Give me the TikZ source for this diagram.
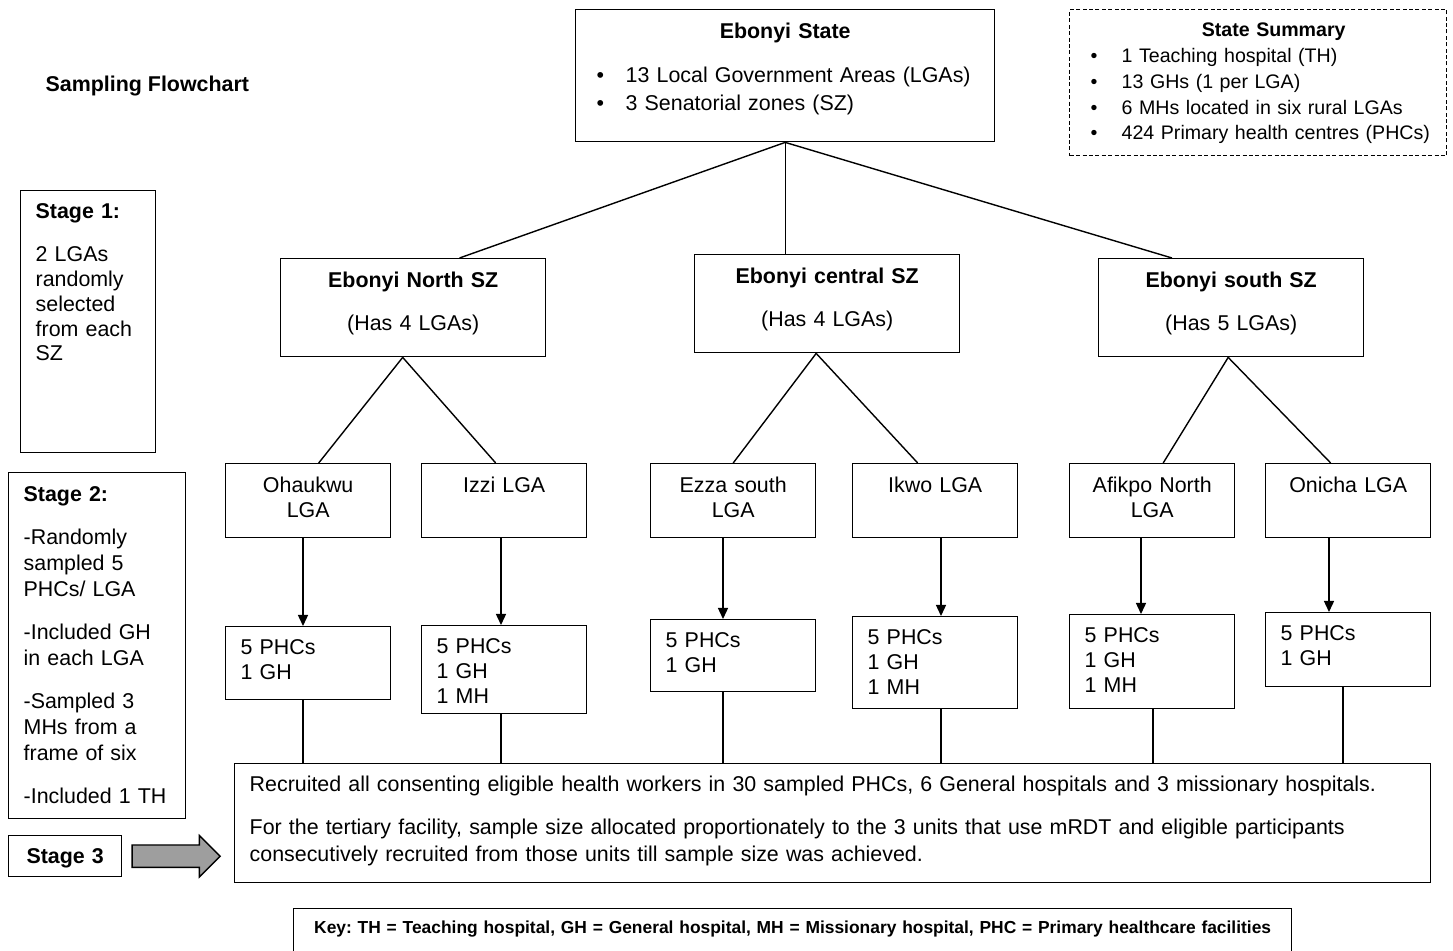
\documentclass[tikz,border=0pt]{standalone}
\usepackage{fontspec}
\setmainfont{Liberation Sans}
\usetikzlibrary{shapes.arrows,arrows.meta,positioning}
\frenchspacing

\begin{document}
\begin{tikzpicture}[x=0.5pt,y=-0.5pt,line width=0.7pt,
  box/.style={draw,rectangle,anchor=north west,inner sep=0pt,font=\fontsize{10.7}{12.4}\selectfont},
  lbox/.style={box,inner xsep=7.5pt,align=left},
  cbox/.style={box,align=center},
  sz/.style={cbox,text width=132.5pt,text height=14.5pt,text depth=34.5pt},
  lga/.style={cbox,text width=82.5pt,text height=14.5pt,text depth=22.5pt},
  phc/.style={lbox,text width=67.5pt,text height=14pt},
  arr/.style={-{Triangle[length=5.5pt,width=5pt]}}]
\useasboundingbox (0,0) rectangle (1453,951);

\node[font=\fontsize{10.7}{12.4}\selectfont\bfseries,anchor=west,inner sep=0pt] (title) at (45,86) {Sampling Flowchart};

\node[lbox,inner xsep=10.5pt,text width=188.5pt,text height=14.5pt,text depth=51.5pt,font=\fontsize{10.7}{14}\selectfont] (state) at (575,9)
  {\makebox[188.5pt]{\textbf{Ebonyi State}}\\[8pt]
   \makebox[14.5pt][l]{\textbullet}13 Local Government Areas (LGAs)\\
   \makebox[14.5pt][l]{\textbullet}3 Senatorial zones (SZ)};
\node[lbox,dash pattern=on 2pt off 1.2pt,inner xsep=10.5pt,text width=167.5pt,text height=13.5pt,text depth=59.5pt,font=\fontsize{9.8}{12.9}\selectfont] (summary) at (1069,9)
  {\hspace*{15.5pt}\makebox[152pt]{\textbf{State Summary}}\\
   \mbox{\makebox[15.5pt][l]{\textbullet}1 Teaching hospital (TH)}\\
   \mbox{\makebox[15.5pt][l]{\textbullet}13 GHs (1 per LGA)}\\
   \mbox{\makebox[15.5pt][l]{\textbullet}6 MHs located in six rural LGAs}\\
   \mbox{\makebox[15.5pt][l]{\textbullet}424 Primary health centres (PHCs)}};

\node[lbox,text width=52.5pt,text height=14pt,text depth=117pt] (stage1) at (20,190)
  {\textbf{Stage 1:}\\[9.1pt]2 LGAs\\randomly\\selected\\from each\\SZ};
\node[lbox,text width=73.5pt,text height=14.5pt,text depth=158.5pt,font=\fontsize{10.7}{13}\selectfont] (stage2) at (8,472)
  {\textbf{Stage 2:}\\[8.5pt]-Randomly\\sampled 5\\PHCs/ LGA\\[8.5pt]-Included GH\\in each LGA\\[8.5pt]-Sampled 3\\MHs from a\\frame of six\\[8.5pt]-Included 1 TH};
\node[cbox,text width=56.5pt,text height=14pt,text depth=6.5pt] (stage3) at (8,835) {\textbf{Stage 3}};
\node[single arrow,draw,fill=black!38,inner sep=0pt,inner ysep=5.25pt,minimum height=44pt,single arrow head extend=4.75pt,right=4.5pt of stage3] (arrow3) {};

\node[sz] (nsz) at (280,258) {\textbf{Ebonyi North SZ}\\[9pt](Has 4 LGAs)};
\node[sz] (csz) at (694,254) {\textbf{Ebonyi central SZ}\\[9pt](Has 4 LGAs)};
\node[sz] (ssz) at (1098,258) {\textbf{Ebonyi south SZ}\\[9pt](Has 5 LGAs)};

\node[lga] (ohaukwu) at (225,463) {Ohaukwu\\LGA};
\node[lga] (izzi) at (421,463) {Izzi LGA};
\node[lga] (ezza) at (650,463) {Ezza south\\LGA};
\node[lga] (ikwo) at (852,463) {Ikwo LGA};
\node[lga] (afikpo) at (1069,463) {Afikpo North\\LGA};
\node[lga] (onicha) at (1265,463) {Onicha LGA};

\node[phc,text depth=22.5pt] (ohaukwu-phc) at (225,626) {5 PHCs\\1 GH};
\node[phc,text depth=30pt] (izzi-phc) at (421,625) {5 PHCs\\1 GH\\1 MH};
\node[phc,text depth=22pt] (ezza-phc) at (650,619) {5 PHCs\\1 GH};
\node[phc,text depth=32pt] (ikwo-phc) at (852,616) {5 PHCs\\1 GH\\1 MH};
\node[phc,text depth=33pt] (afikpo-phc) at (1069,614) {5 PHCs\\1 GH\\1 MH};
\node[phc,text depth=23pt] (onicha-phc) at (1265,612) {5 PHCs\\1 GH};

\node[lbox,text width=583pt,text height=14pt,text depth=45.5pt,font=\fontsize{10.7}{13.5}\selectfont] (rec) at (234,763)
  {Recruited all consenting eligible health workers in 30 sampled PHCs, 6 General hospitals and 3 missionary hospitals.\\[8pt]
   For the tertiary facility, sample size allocated proportionately to the 3 units that use mRDT and eligible participants\\
   consecutively recruited from those units till sample size was achieved.};
\node[cbox,text width=499pt,text height=12.5pt,text depth=18pt,font=\fontsize{8.7}{10}\selectfont\bfseries] (key) at (293,908)
  {Key: TH = Teaching hospital, GH = General hospital, MH = Missionary hospital, PHC = Primary healthcare facilities};

\draw (state.south) -- (nsz.47);
\draw (state.south) -- (state.south |- csz.north);
\draw (state.south) -- (ssz.140);
\foreach \p/\a/\c/\b in {nsz/-5.25pt/ohaukwu/5.25pt, nsz/-5.25pt/izzi/-4.25pt, csz/-5.5pt/ezza/0pt,
  csz/-5.5pt/ikwo/-8.75pt, ssz/-1.5pt/afikpo/5.5pt, ssz/-1.5pt/onicha/-8.75pt}
  \draw ([xshift=\a]\p.south) -- ([xshift=\b]\c.north);
\foreach \n/\a/\b in {ohaukwu/303/303, izzi/501/501, ezza/723/723, ikwo/941/941, afikpo/1141/1153, onicha/1329/1343}
{
  \draw[arr] (\a,0 |- \n.south) -- (\a,0 |- \n-phc.north);
  \draw (\b,0 |- \n-phc.south) -- (\b,0 |- rec.north);
}
\end{tikzpicture}
\end{document}
